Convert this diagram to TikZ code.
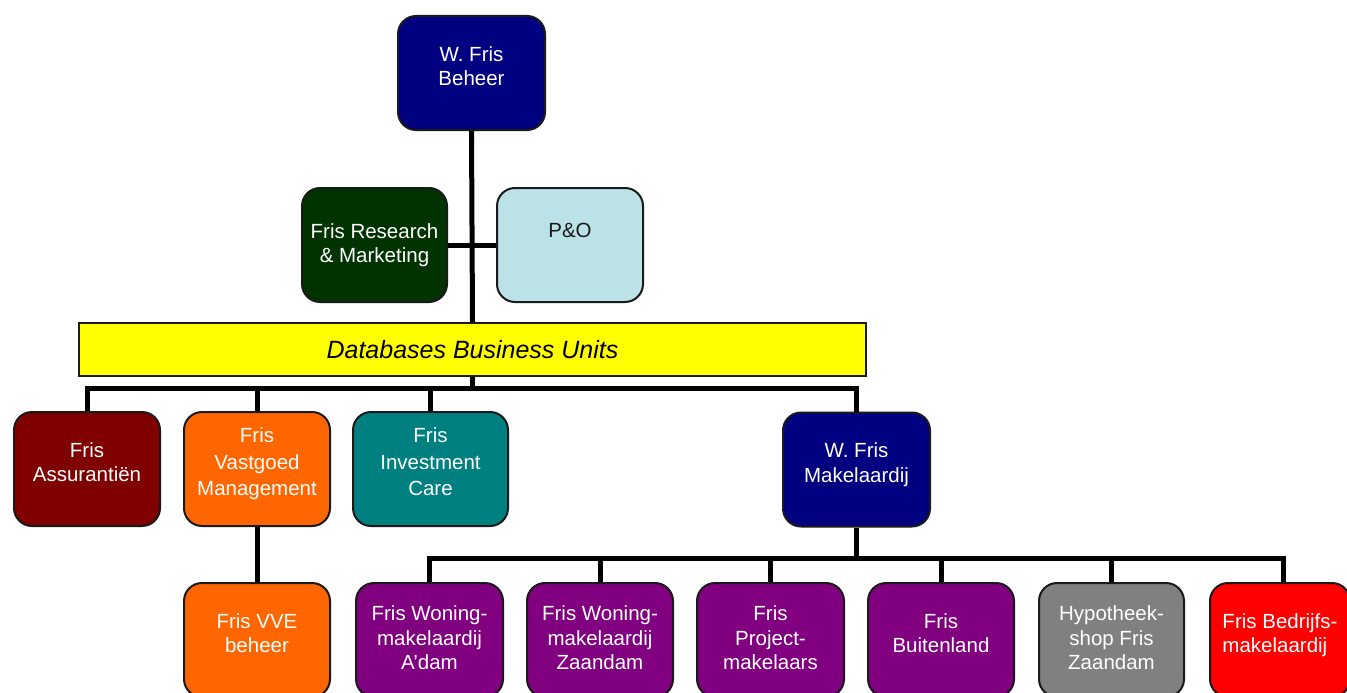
\documentclass[tikz,border=0pt]{standalone}
\usepackage{fontspec}
\setmainfont{Liberation Sans}
\definecolor{navyc}{HTML}{000080}
\definecolor{resgreen}{HTML}{003300}
\definecolor{pocyan}{HTML}{BBE2E6}
\definecolor{maroonc}{HTML}{800000}
\definecolor{orangec}{HTML}{FF6600}
\definecolor{tealc}{HTML}{008080}
\definecolor{purplec}{HTML}{800080}
\definecolor{grayc}{HTML}{808080}
\definecolor{redc}{HTML}{FF0000}
\definecolor{yellowc}{HTML}{FFFF00}
\definecolor{edgec}{HTML}{1A1A1A}
\begin{document}
\begin{tikzpicture}[x=1pt,y=-1pt,
  box/.style={draw=edgec, line width=2pt, rounded corners=18pt,
    minimum width=146pt, minimum height=114pt, inner sep=0pt,
    align=center, text=white, text depth=14pt,
    font=\fontsize{20.5}{24.5}\selectfont},
  lowtext/.style={text depth=4pt},
  bigtext/.style={font=\fontsize{20.5}{26.5}\selectfont},
  conn/.style={line width=5pt, line join=miter, draw=black}]
\useasboundingbox (0,0) rectangle (1347,693);
\fill[white] (0,0) rectangle (1347,693);
\clip (0,0) rectangle (1347,693);

% top
\node[box, fill=navyc, minimum width=147pt] (beheer) at (471.5,73) {W. Fris\\Beheer};
\node[box, lowtext, fill=resgreen, minimum width=145pt] (research) at (374.5,245) {Fris Research\\\& Marketing};
\node[box, lowtext, fill=pocyan, text=edgec] (po) at (570,245) {P\&O\\\mbox{}};

% bar
\node[draw=edgec, line width=1.5pt, fill=yellowc, minimum width=787pt, minimum height=53pt,
  inner sep=0pt, font=\fontsize{25}{30}\selectfont\itshape] (bar) at (472.5,349.5) {Databases Business Units};

% second row
\node[box, fill=maroonc] (assur) at (87,469) {Fris\\Assurantiën};
\node[box, bigtext, fill=orangec] (vastgoed) at (257,469) {Fris\\Vastgoed\\Management};
\node[box, bigtext, fill=tealc, minimum width=155pt] (invest) at (430.5,469) {Fris\\Investment\\Care};
\node[box, fill=navyc, minimum width=147pt] (makel) at (856.5,469.5) {W. Fris\\Makelaardij};

% third row
\node[box, fill=orangec] (vve) at (257,640) {Fris VVE\\beheer};
\node[box, lowtext, fill=purplec, minimum width=147pt] (adam) at (429.5,640) {Fris Woning-\\makelaardij\\A'dam};
\node[box, lowtext, fill=purplec] (zaandam) at (600,640) {Fris Woning-\\makelaardij\\Zaandam};
\node[box, lowtext, fill=purplec, minimum width=147pt] (project) at (770.5,640) {Fris\\Project-\\makelaars};
\node[box, fill=purplec] (buiten) at (941,640) {Fris\\Buitenland};
\node[box, lowtext, fill=grayc, minimum width=145pt] (hypo) at (1111.5,640) {Hypotheek-\\shop Fris\\Zaandam};
\node[box, fill=redc, minimum width=140pt, align=left] (bedrijf) at (1280,640) {Fris Bedrijfs-\\makelaardij};

% connectors
\coordinate (bus1) at (472.5,388);
\coordinate (bus2) at (856.5,558);
\draw[conn] (beheer.south) -- (bar.north);
\draw[conn] (research.east) -- (po.west);
\draw[conn] (bar.south) -- (bus1);
\draw[conn] (assur.north) |- (bus1) -| (makel.north);
\draw[conn] (vastgoed.north) -- (vastgoed.north |- bus1);
\draw[conn] (invest.north) -- (invest.north |- bus1);
\draw[conn] (vastgoed.south) -- (vve.north);
\draw[conn] (makel.south) -- (bus2);
\draw[conn] (adam.north) |- (bus2) -| ([xshift=3pt]bedrijf.north);
\draw[conn] (zaandam.north) -- (zaandam.north |- bus2);
\draw[conn] (project.north) -- (project.north |- bus2);
\draw[conn] (buiten.north) -- (buiten.north |- bus2);
\draw[conn] (hypo.north) -- (hypo.north |- bus2);
\end{tikzpicture}
\end{document}
